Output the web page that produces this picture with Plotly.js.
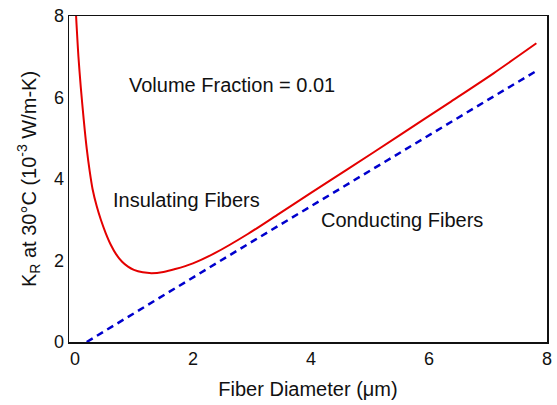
<!DOCTYPE html>
<html>
<head>
<meta charset="utf-8">
<script src="https://cdn.plot.ly/plotly-3.0.1.min.js"></script>
<style>html,body{margin:0;padding:0;background:#fff;}#chart{width:557px;height:405px;}</style>
</head>
<body>
<div id="chart"></div>
<script>
// Insulating fibers (red solid curve)
var insulX = [0.02, 0.06, 0.1, 0.15, 0.2, 0.25, 0.3, 0.37, 0.44, 0.52, 0.61, 0.7, 0.8, 0.9, 1.0, 1.15, 1.3, 1.5, 1.7, 2.0, 2.37, 2.93, 3.43, 4.0, 4.61, 5.5, 6.34, 7.1, 7.82];
var insulY = [8.0, 7.0, 6.25, 5.45, 4.75, 4.2, 3.75, 3.33, 3.0, 2.68, 2.38, 2.15, 1.97, 1.85, 1.77, 1.71, 1.69, 1.72, 1.79, 1.93, 2.18, 2.65, 3.12, 3.66, 4.23, 5.07, 5.87, 6.6, 7.33];
// Conducting fibers (blue dashed line)
var condX = [0.2, 2.93, 6.95, 7.83];
var condY = [0.0, 2.4, 5.9, 6.66];
var xTicks = [0, 2, 4, 6, 8];
var yTicks = [0, 2, 4, 6, 8];
var labels = ["Volume Fraction = 0.01", "Insulating Fibers", "Conducting Fibers"];
var labelX = [0.89, 0.61, 4.13];
var labelY = [6.31, 3.48, 2.99];

var font = "Arial, 'Liberation Sans', sans-serif";
var traces = [
  {x: insulX, y: insulY, mode: "lines", line: {color: "rgb(228,0,0)", width: 2, shape: "spline", smoothing: 0.8}, hoverinfo: "skip"},
  {x: condX, y: condY, mode: "lines", line: {color: "rgb(0,0,205)", width: 2.5, dash: "7px,5px"}, hoverinfo: "skip"}
];
var ann = labels.map(function(t, i){
  return {x: labelX[i], y: labelY[i], xref: "x", yref: "y", text: t, showarrow: false,
          xanchor: "left", yanchor: "middle", font: {family: font, size: 20, color: "#111"}};
});
var layout = {
  width: 557, height: 405,
  margin: {l: 69, r: 10, t: 16, b: 63},
  paper_bgcolor: "#fff", plot_bgcolor: "#fff",
  showlegend: false,
  font: {family: font, size: 18, color: "#111"},
  xaxis: {range: [-0.1, 8], tickvals: xTicks, ticktext: xTicks.map(String), showgrid: false, zeroline: false,
          showline: true, mirror: true, linecolor: "#111", linewidth: 1.5, ticks: "",
          tickfont: {family: font, size: 18, color: "#111"},
          title: {text: "Fiber Diameter (μm)", font: {family: font, size: 20, color: "#111"}, standoff: 14}},
  yaxis: {range: [0, 8], tickvals: yTicks, ticktext: yTicks.map(String), showgrid: false, zeroline: false,
          showline: true, mirror: true, linecolor: "#111", linewidth: 1.5, ticks: "",
          tickfont: {family: font, size: 18, color: "#111"},
          title: {text: "K<sub>R</sub> at 30°C (10<sup>-3</sup> W/m-K)", font: {family: font, size: 20, color: "#111"}, standoff: 12}},
  annotations: ann
};
Plotly.newPlot("chart", traces, layout, {staticPlot: true, displayModeBar: false});
</script>
</body>
</html>
